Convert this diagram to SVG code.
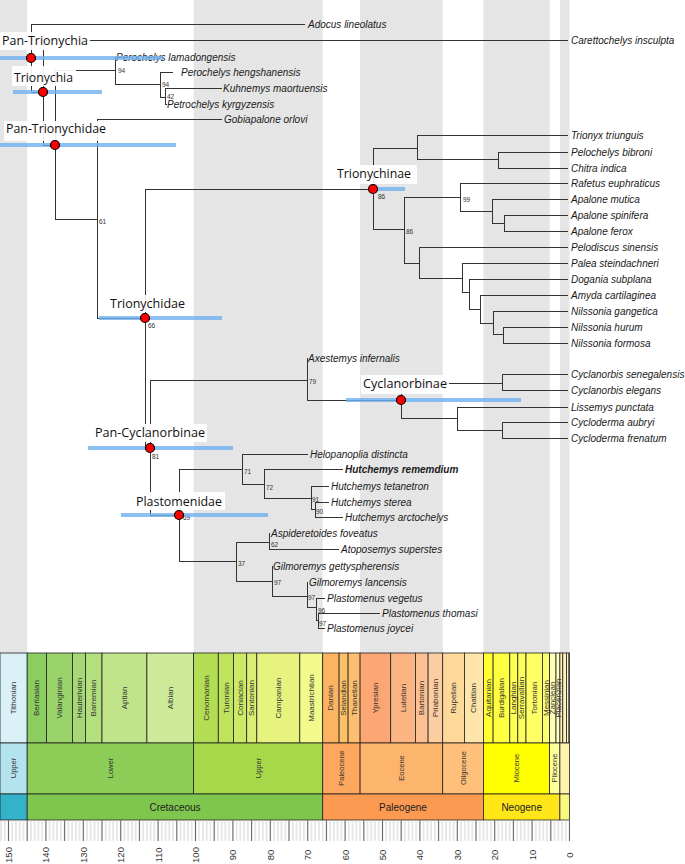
<svg xmlns="http://www.w3.org/2000/svg" width="685" height="864" viewBox="0 0 685 864">
<style>
.band{fill:#e5e5e5}
.tip{font-family:"Liberation Sans",Arial,sans-serif;font-size:10px;font-style:italic;fill:#1a1a1a}
.bold{font-weight:bold}
.sup{font-family:"Liberation Sans",Arial,sans-serif;font-size:6.5px;fill:#333}
.clade{font-family:"Open Sans","Liberation Sans",sans-serif;font-size:13px;fill:#111}
.box{fill:#fff;fill-opacity:0.92}
.bar{stroke:#6fb0f0;stroke-width:4;stroke-opacity:0.8}
.dot{fill:#f00;stroke:#000;stroke-width:1.2}
.cell{stroke:#222;stroke-width:0.8}
.st{font-family:"Liberation Sans",Arial,sans-serif;font-size:8px;fill:#333;text-anchor:middle;dominant-baseline:central}
.ep{font-family:"Liberation Sans",Arial,sans-serif;font-size:7.5px;fill:#333;text-anchor:middle;dominant-baseline:central}
.pe{font-family:"Liberation Sans",Arial,sans-serif;font-size:10px;fill:#222;text-anchor:middle}
.tk{font-family:"Liberation Sans",Arial,sans-serif;font-size:9.5px;fill:#333;text-anchor:middle;dominant-baseline:central}
</style>
<defs>
<pattern id="minor" patternUnits="userSpaceOnUse" x="567.63" y="0" width="3.74" height="864"><line x1="1.87" y1="0" x2="1.87" y2="864" stroke="#c4c4c4" stroke-width="0.8"/></pattern>
<pattern id="major" patternUnits="userSpaceOnUse" x="560.15" y="0" width="18.7" height="864"><line x1="9.35" y1="0" x2="9.35" y2="864" stroke="#666" stroke-width="1"/></pattern>
</defs>
<rect width="685" height="864" fill="#fff"/>
<g id="bands">
<rect class="band" x="0" y="0" width="27.2" height="653"/>
<rect class="band" x="193.6" y="0" width="129.1" height="653"/>
<rect class="band" x="360.1" y="0" width="82.6" height="653"/>
<rect class="band" x="483.4" y="0" width="66.2" height="653"/>
<rect class="band" x="559.9" y="0" width="9.6" height="653"/>
</g>
<g id="connectors" fill="none" stroke="#333" stroke-width="1" shape-rendering="crispEdges">
<path d="M31,24 H305 M31,24 V92 H43 M43,40 H568 M43,40 V145 H55 M55,70 V219 M55,70 H115 M115,57 V84 H160 M115,57 H116 M160,72 V97 H165 M160,72 H173 M165,88 V104 M165,88 H222 M165,104 H167 M55,219 H97 M97,119 V318 H145 M97,119 H222 M145,189 V448 H150 M145,189 H373 M373,148 V229 H404 M373,148 H417 M417,135 V159 H498 M417,135 H568 M498,152 V168 M498,152 H568 M498,168 H568 M404,197 V263 H419 M404,197 H460 M460,183 V211 H492 M460,183 H568 M492,199 V223 H504 M492,199 H568 M504,215 V231 M504,215 H568 M504,231 H568 M419,247 V278 H462 M419,247 H568 M462,263 V292 H469 M462,263 H568 M469,279 V309 H480 M469,279 H568 M480,295 V323 H493 M480,295 H568 M493,311 V334 H503 M493,311 H568 M503,327 V343 M503,327 H568 M503,343 H568 M150,380 V515 H179 M150,380 H307 M307,358 V400 H401 M307,358 H308 M401,383 V418 H457 M401,383 H502 M502,374 V390 M502,374 H568 M502,390 H568 M457,407 V430 H502 M457,407 H568 M502,422 V438 M502,422 H568 M502,438 H568 M179,469 V561 H236 M179,469 H242 M242,454 V484 H264 M242,454 H308 M264,469 V498 H311 M264,469 H343 M311,486 V509 H315 M311,486 H329 M315,502 V517 M315,502 H329 M315,517 H343 M236,542 V581 H272 M236,542 H269 M269,533 V549 M269,533 H270 M269,549 H339 M272,566 V596 H307 M272,566 H273 M307,582 V607 H316 M307,582 H308 M316,598 V620 H318 M316,598 H325 M318,613 V628 M318,613 H380 M318,628 H325"/>
</g>
<g id="tips">
<text class="tip" x="308" y="27.5">Adocus lineolatus</text>
<text class="tip" x="571" y="43.5">Carettochelys insculpta</text>
<text class="tip" x="116" y="60.5">Perochelys lamadongensis</text>
<text class="tip" x="181" y="75.5">Perochelys hengshanensis</text>
<text class="tip" x="223" y="91.5">Kuhnemys maortuensis</text>
<text class="tip" x="167" y="108">Petrochelys kyrgyzensis</text>
<text class="tip" x="224" y="122.5">Gobiapalone orlovi</text>
<text class="tip" x="571" y="138.5">Trionyx triunguis</text>
<text class="tip" x="571" y="155.5">Pelochelys bibroni</text>
<text class="tip" x="571" y="171.5">Chitra indica</text>
<text class="tip" x="571" y="186.5">Rafetus euphraticus</text>
<text class="tip" x="571" y="202.5">Apalone mutica</text>
<text class="tip" x="571" y="218.5">Apalone spinifera</text>
<text class="tip" x="571" y="234.5">Apalone ferox</text>
<text class="tip" x="571" y="250.5">Pelodiscus sinensis</text>
<text class="tip" x="571" y="266.5">Palea steindachneri</text>
<text class="tip" x="571" y="282.5">Dogania subplana</text>
<text class="tip" x="571" y="298.5">Amyda cartilaginea</text>
<text class="tip" x="571" y="314.5">Nilssonia gangetica</text>
<text class="tip" x="571" y="330.5">Nilssonia hurum</text>
<text class="tip" x="571" y="346.5">Nilssonia formosa</text>
<text class="tip" x="308" y="361.5">Axestemys infernalis</text>
<text class="tip" x="571" y="377.5">Cyclanorbis senegalensis</text>
<text class="tip" x="571" y="393.5">Cyclanorbis elegans</text>
<text class="tip" x="571" y="410.5">Lissemys punctata</text>
<text class="tip" x="571" y="425.5">Cycloderma aubryi</text>
<text class="tip" x="571" y="441.5">Cycloderma frenatum</text>
<text class="tip" x="310" y="457.5">Helopanoplia distincta</text>
<text class="tip bold" x="345" y="472.5">Hutchemys rememdium</text>
<text class="tip" x="331" y="489.5">Hutchemys tetanetron</text>
<text class="tip" x="331" y="505.5">Hutchemys sterea</text>
<text class="tip" x="345" y="520.5">Hutchemys arctochelys</text>
<text class="tip" x="271" y="536.5">Aspideretoides foveatus</text>
<text class="tip" x="341" y="552.5">Atoposemys superstes</text>
<text class="tip" x="273" y="569.5">Gilmoremys gettyspherensis</text>
<text class="tip" x="309" y="585.5">Gilmoremys lancensis</text>
<text class="tip" x="327" y="601.5">Plastomenus vegetus</text>
<text class="tip" x="382" y="616.5">Plastomenus thomasi</text>
<text class="tip" x="327" y="631.5">Plastomenus joycei</text>
</g>
<g id="support">
<text class="sup" x="118" y="73">94</text>
<text class="sup" x="162" y="87">94</text>
<text class="sup" x="167" y="98.5">42</text>
<text class="sup" x="99" y="224">61</text>
<text class="sup" x="148" y="328">66</text>
<text class="sup" x="378" y="199">86</text>
<text class="sup" x="406" y="234">86</text>
<text class="sup" x="463" y="202">99</text>
<text class="sup" x="309" y="384">79</text>
<text class="sup" x="152" y="459">81</text>
<text class="sup" x="183" y="520">69</text>
<text class="sup" x="244" y="474">71</text>
<text class="sup" x="266" y="490">72</text>
<text class="sup" x="312" y="502">91</text>
<text class="sup" x="316" y="514">90</text>
<text class="sup" x="271" y="547">62</text>
<text class="sup" x="238" y="566">37</text>
<text class="sup" x="274" y="585">97</text>
<text class="sup" x="308" y="600">97</text>
<text class="sup" x="318" y="613">96</text>
<text class="sup" x="319" y="626">97</text>
</g>
<g id="clade-pan-trionychia">
<rect class="box" x="0" y="32" width="90" height="18"/>
<text class="clade" x="2" y="45" textLength="86" lengthAdjust="spacingAndGlyphs">Pan-Trionychia</text>
<line class="bar" x1="0" y1="58" x2="163" y2="58"/>
<circle class="dot" cx="31" cy="58" r="4.5"/>
</g>
<g id="clade-trionychia">
<rect class="box" x="12" y="66" width="64" height="20"/>
<text class="clade" x="14" y="82" textLength="59" lengthAdjust="spacingAndGlyphs">Trionychia</text>
<line class="bar" x1="13" y1="92" x2="102" y2="92"/>
<circle class="dot" cx="43" cy="92" r="4.5"/>
</g>
<g id="clade-pan-trionychidae">
<rect class="box" x="4" y="121" width="105" height="20"/>
<text class="clade" x="6" y="133" textLength="100" lengthAdjust="spacingAndGlyphs">Pan-Trionychidae</text>
<line class="bar" x1="0" y1="145" x2="176" y2="145"/>
<circle class="dot" cx="55" cy="145" r="4.5"/>
</g>
<g id="clade-trionychinae">
<rect class="box" x="335" y="165" width="82" height="19"/>
<text class="clade" x="337" y="178" textLength="74" lengthAdjust="spacingAndGlyphs">Trionychinae</text>
<line class="bar" x1="373" y1="189" x2="405" y2="189"/>
<circle class="dot" cx="373" cy="189" r="4.5"/>
</g>
<g id="clade-trionychidae">
<rect class="box" x="108" y="295" width="79" height="17"/>
<text class="clade" x="110" y="308" textLength="75" lengthAdjust="spacingAndGlyphs">Trionychidae</text>
<line class="bar" x1="99" y1="318" x2="222" y2="318"/>
<circle class="dot" cx="145" cy="318" r="4.5"/>
</g>
<g id="clade-cyclanorbinae">
<rect class="box" x="361" y="375" width="88" height="19"/>
<text class="clade" x="363" y="388" textLength="84" lengthAdjust="spacingAndGlyphs">Cyclanorbinae</text>
<line class="bar" x1="346" y1="400" x2="521" y2="400"/>
<circle class="dot" cx="401" cy="400" r="4.5"/>
</g>
<g id="clade-pan-cyclanorbinae">
<rect class="box" x="93" y="424" width="114" height="18"/>
<text class="clade" x="95" y="437" textLength="110" lengthAdjust="spacingAndGlyphs">Pan-Cyclanorbinae</text>
<line class="bar" x1="88" y1="448" x2="233" y2="448"/>
<circle class="dot" cx="150" cy="448" r="4.5"/>
</g>
<g id="clade-plastomenidae">
<rect class="box" x="134" y="492" width="91" height="18"/>
<text class="clade" x="136" y="506" textLength="86" lengthAdjust="spacingAndGlyphs">Plastomenidae</text>
<line class="bar" x1="121" y1="515" x2="268" y2="515"/>
<circle class="dot" cx="179" cy="515" r="4.5"/>
</g>
<g id="timescale">
<g id="stages">
<rect class="cell" x="0" y="653" width="27.2" height="90" fill="#D9F1F7"/>
<rect class="cell" x="27.2" y="653" width="19.4" height="90" fill="#8CCD60"/>
<rect class="cell" x="46.6" y="653" width="25.9" height="90" fill="#99D36A"/>
<rect class="cell" x="72.5" y="653" width="13" height="90" fill="#A6D975"/>
<rect class="cell" x="85.5" y="653" width="16.5" height="90" fill="#B3DF7F"/>
<rect class="cell" x="102" y="653" width="44.9" height="90" fill="#BFE48A"/>
<rect class="cell" x="146.9" y="653" width="46.7" height="90" fill="#CCEA97"/>
<rect class="cell" x="193.6" y="653" width="24.7" height="90" fill="#B3DE53"/>
<rect class="cell" x="218.3" y="653" width="15.3" height="90" fill="#BFE35D"/>
<rect class="cell" x="233.6" y="653" width="13.1" height="90" fill="#CCE968"/>
<rect class="cell" x="246.7" y="653" width="10.1" height="90" fill="#D9EF74"/>
<rect class="cell" x="256.8" y="653" width="43" height="90" fill="#E6F47F"/>
<rect class="cell" x="299.8" y="653" width="22.9" height="90" fill="#F2FA8C"/>
<rect class="cell" x="322.7" y="653" width="16.4" height="90" fill="#FDB462"/>
<rect class="cell" x="339.1" y="653" width="9" height="90" fill="#FEBF65"/>
<rect class="cell" x="348.1" y="653" width="12" height="90" fill="#FDBF6F"/>
<rect class="cell" x="360.1" y="653" width="30.6" height="90" fill="#FCA773"/>
<rect class="cell" x="390.7" y="653" width="24.7" height="90" fill="#FCB482"/>
<rect class="cell" x="415.4" y="653" width="12.7" height="90" fill="#FDC091"/>
<rect class="cell" x="428.1" y="653" width="14.6" height="90" fill="#FDCDA1"/>
<rect class="cell" x="442.7" y="653" width="21.7" height="90" fill="#FED99A"/>
<rect class="cell" x="464.4" y="653" width="19" height="90" fill="#FEE6AA"/>
<rect class="cell" x="483.4" y="653" width="9.7" height="90" fill="#FFFF33"/>
<rect class="cell" x="493.1" y="653" width="16.7" height="90" fill="#FFFF41"/>
<rect class="cell" x="509.8" y="653" width="8" height="90" fill="#FFFF4D"/>
<rect class="cell" x="517.8" y="653" width="8.2" height="90" fill="#FFFF59"/>
<rect class="cell" x="526" y="653" width="16.4" height="90" fill="#FFFF66"/>
<rect class="cell" x="542.4" y="653" width="7.2" height="90" fill="#FFFF73"/>
<rect class="cell" x="549.6" y="653" width="6.4" height="90" fill="#FFFFB3"/>
<rect class="cell" x="556" y="653" width="3.9" height="90" fill="#FFFFBF"/>
<rect class="cell" x="559.9" y="653" width="2.9" height="90" fill="#FFEDB3"/>
<rect class="cell" x="562.8" y="653" width="3.8" height="90" fill="#FFF2BA"/>
<rect class="cell" x="566.6" y="653" width="2.4" height="90" fill="#FFF2C7"/>
<rect class="cell" x="569" y="653" width="0.5" height="90" fill="#FFF2D3"/>
<text class="st" transform="translate(13.6,698) rotate(-90)">Tithonian</text>
<text class="st" transform="translate(36.9,698) rotate(-90)">Berriasian</text>
<text class="st" transform="translate(59.5,698) rotate(-90)">Valanginian</text>
<text class="st" transform="translate(79,698) rotate(-90)">Hauterivian</text>
<text class="st" transform="translate(93.7,698) rotate(-90)">Barremian</text>
<text class="st" transform="translate(124.5,698) rotate(-90)">Aptian</text>
<text class="st" transform="translate(170.2,698) rotate(-90)">Albian</text>
<text class="st" transform="translate(206,698) rotate(-90)">Cenomanian</text>
<text class="st" transform="translate(226,698) rotate(-90)">Turonian</text>
<text class="st" transform="translate(240.1,698) rotate(-90)">Coniacian</text>
<text class="st" transform="translate(251.7,698) rotate(-90)">Santonian</text>
<text class="st" transform="translate(278.3,698) rotate(-90)">Campanian</text>
<text class="st" transform="translate(311.2,698) rotate(-90)">Maastrichtian</text>
<text class="st" transform="translate(330.9,698) rotate(-90)">Danian</text>
<text class="st" transform="translate(343.6,698) rotate(-90)">Selandian</text>
<text class="st" transform="translate(354.1,698) rotate(-90)">Thanetian</text>
<text class="st" transform="translate(375.4,698) rotate(-90)">Ypresian</text>
<text class="st" transform="translate(403,698) rotate(-90)">Lutetian</text>
<text class="st" transform="translate(421.7,698) rotate(-90)">Bartonian</text>
<text class="st" transform="translate(435.4,698) rotate(-90)">Priabonian</text>
<text class="st" transform="translate(453.5,698) rotate(-90)">Rupelian</text>
<text class="st" transform="translate(473.9,698) rotate(-90)">Chattian</text>
<text class="st" transform="translate(488.2,698) rotate(-90)">Aquitanian</text>
<text class="st" transform="translate(501.4,698) rotate(-90)">Burdigalian</text>
<text class="st" transform="translate(513.8,698) rotate(-90)">Langhian</text>
<text class="st" transform="translate(521.9,698) rotate(-90)">Serravallian</text>
<text class="st" transform="translate(534.2,698) rotate(-90)">Tortonian</text>
<text class="st" transform="translate(546,698) rotate(-90)">Messinian</text>
<text class="st" transform="translate(552.8,698) rotate(-90)">Zanclean</text>
<text class="st" transform="translate(558,698) rotate(-90)">Piacenzian</text>
</g>
<g id="epochs">
<rect class="cell" x="0" y="743" width="27.2" height="51" fill="#B3E3EE"/>
<rect class="cell" x="27.2" y="743" width="166.4" height="51" fill="#8CCD57"/>
<rect class="cell" x="193.6" y="743" width="129.1" height="51" fill="#A6D84A"/>
<rect class="cell" x="322.7" y="743" width="37.4" height="51" fill="#FDA75F"/>
<rect class="cell" x="360.1" y="743" width="82.6" height="51" fill="#FDB46C"/>
<rect class="cell" x="442.7" y="743" width="40.7" height="51" fill="#FEC07A"/>
<rect class="cell" x="483.4" y="743" width="66.2" height="51" fill="#FFFF00"/>
<rect class="cell" x="549.6" y="743" width="10.3" height="51" fill="#FFFF99"/>
<rect class="cell" x="559.9" y="743" width="9.6" height="51" fill="#FFF2AE"/>
<text class="ep" transform="translate(13.6,768) rotate(-90)">Upper</text>
<text class="ep" transform="translate(110.4,768) rotate(-90)">Lower</text>
<text class="ep" transform="translate(258.2,768) rotate(-90)">Upper</text>
<text class="ep" transform="translate(341.4,768) rotate(-90)">Paleocene</text>
<text class="ep" transform="translate(401.4,768) rotate(-90)">Eocene</text>
<text class="ep" transform="translate(463,768) rotate(-90)">Oligocene</text>
<text class="ep" transform="translate(516.5,768) rotate(-90)">Miocene</text>
<text class="ep" transform="translate(554.7,768) rotate(-90)">Pliocene</text>
</g>
<g id="periods">
<rect class="cell" x="0" y="794" width="27.2" height="26" fill="#34B2C9"/>
<rect class="cell" x="27.2" y="794" width="295.5" height="26" fill="#7FC64E"/>
<rect class="cell" x="322.7" y="794" width="160.7" height="26" fill="#FD9A52"/>
<rect class="cell" x="483.4" y="794" width="76.5" height="26" fill="#FFE619"/>
<rect class="cell" x="559.9" y="794" width="9.6" height="26" fill="#F9F97F"/>
<text class="pe" x="175" y="811">Cretaceous</text>
<text class="pe" x="403" y="811">Paleogene</text>
<text class="pe" x="521.7" y="811">Neogene</text>
</g>
<g id="ticks">
<rect x="0" y="820" width="570" height="21" fill="url(#minor)"/>
<rect x="0" y="820" width="570" height="21" fill="url(#major)"/>
<text class="tk" transform="translate(8.5,855) rotate(-90)">150</text>
<text class="tk" transform="translate(45.9,855) rotate(-90)">140</text>
<text class="tk" transform="translate(83.3,855) rotate(-90)">130</text>
<text class="tk" transform="translate(120.7,855) rotate(-90)">120</text>
<text class="tk" transform="translate(158.1,855) rotate(-90)">110</text>
<text class="tk" transform="translate(195.5,855) rotate(-90)">100</text>
<text class="tk" transform="translate(232.9,855) rotate(-90)">90</text>
<text class="tk" transform="translate(270.3,855) rotate(-90)">80</text>
<text class="tk" transform="translate(307.7,855) rotate(-90)">70</text>
<text class="tk" transform="translate(345.1,855) rotate(-90)">60</text>
<text class="tk" transform="translate(382.5,855) rotate(-90)">50</text>
<text class="tk" transform="translate(419.9,855) rotate(-90)">40</text>
<text class="tk" transform="translate(457.3,855) rotate(-90)">30</text>
<text class="tk" transform="translate(494.7,855) rotate(-90)">20</text>
<text class="tk" transform="translate(532.1,855) rotate(-90)">10</text>
<text class="tk" transform="translate(569.5,855) rotate(-90)">0</text>
</g>
</g>
</svg>
